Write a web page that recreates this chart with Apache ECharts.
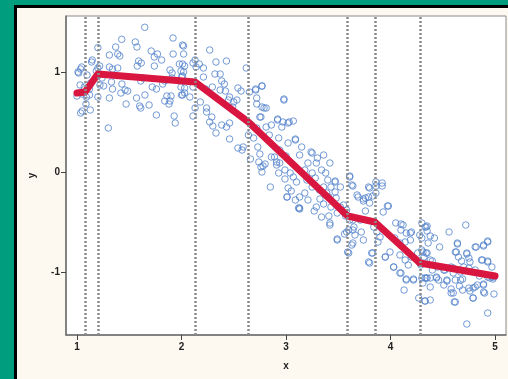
<!DOCTYPE html>
<html>
<head>
<meta charset="utf-8">
<script src="https://cdn.jsdelivr.net/npm/echarts@6/dist/echarts.min.js"></script>
<style>
html,body{margin:0;padding:0;width:508px;height:379px;overflow:hidden;background:#009e7e;}
#frame{position:absolute;left:14px;top:5px;width:494px;height:374px;box-sizing:border-box;border-left:3px solid #000;border-top:3px solid #000;background:#fdf9f1;}
#chart{position:absolute;left:0;top:0;width:508px;height:379px;}
</style>
</head>
<body>
<div id="frame"></div>
<div id="chart"></div>
<script>
// Observed scatter points [x, y]
const scatterPoints = [
[1.648,1.447],[1.428,1.327],[1.558,1.30],[1.574,1.25],[1.919,1.34],[2.01,1.27],[1.20,1.243],[1.37,1.25],[1.39,1.18],[1.41,1.16],
[1.31,1.17],[1.146,1.12],[1.71,1.21],[1.74,1.15],[1.77,1.18],[1.81,1.12],[1.74,1.06],[1.59,1.11],[1.615,1.09],[1.577,1.06],
[1.92,1.18],[1.98,1.08],[2.03,1.06],[1.89,1.02],[1.91,0.99],[1.995,1.01],[1.31,1.05],[1.39,1.04],[1.34,1.03],[1.035,1.03],
[1.016,0.99],[1.217,1.06],[1.185,1.01],[1.20,1.04],[1.096,0.97],[1.24,0.94],[1.33,0.90],[1.22,0.87],[1.43,0.88],[1.46,0.82],
[1.42,0.79],[1.31,0.74],[1.20,0.75],[1.03,0.87],[1.07,0.85],[1.05,0.78],[1.0,0.76],[1.09,0.75],[1.12,0.77],[1.086,0.68],
[1.05,0.61],[1.127,0.62],[1.035,0.59],[1.30,0.44],[1.47,0.68],[1.60,0.66],[1.61,0.64],[1.57,0.74],[1.65,0.77],[1.72,0.85],
[1.76,0.83],[1.69,0.67],[1.76,0.57],[1.61,0.91],[1.63,0.94],[1.82,0.88],[1.84,0.91],[1.86,0.76],[1.89,0.71],[1.84,0.71],
[1.88,0.68],[1.93,0.56],[1.94,0.49],[2.00,0.77],[1.995,0.85],[2.03,0.79],[1.90,0.76],[2.01,0.96],[1.91,0.94],[1.485,0.81],
[1.34,0.83],[1.12,0.83],[1.13,0.89],[1.255,0.86],[1.20,0.96],[1.01,1.00],[1.045,1.05],[1.14,1.10],
[2.02,1.26],[2.02,1.18],[2.01,1.08],[2.02,1.00],[2.00,0.95],[2.03,0.84],[2.01,0.77],[2.27,1.22],[2.13,1.12],[2.11,1.09],
[2.17,1.08],[2.14,1.05],[2.33,1.10],[2.43,1.11],[2.21,1.04],[2.32,0.98],[2.37,0.98],[2.21,0.95],[2.385,0.91],[2.41,0.88],
[2.295,0.85],[2.37,0.82],[2.42,0.81],[2.11,0.85],[2.08,0.75],[2.23,0.83],[2.46,0.75],[2.50,0.70],[2.53,0.72],[2.45,0.72],
[2.49,0.65],[2.54,0.84],[2.57,0.81],[2.62,1.04],[2.65,0.80],[2.71,0.82],[2.77,0.86],[2.72,0.74],[2.72,0.68],[2.77,0.65],
[2.81,0.64],[2.98,0.72],[2.18,0.70],[2.24,0.64],[2.13,0.64],[2.24,0.60],[2.29,0.55],[2.27,0.50],[2.30,0.46],[2.11,0.56],
[2.385,0.47],[2.43,0.45],[2.46,0.49],[2.33,0.39],[2.46,0.33],[2.54,0.24],[2.59,0.25],[2.58,0.22],[2.67,0.47],[2.72,0.44],
[2.64,0.37],[2.69,0.34],[2.73,0.25],[2.75,0.18],[2.81,0.45],[2.86,0.47],[2.84,0.37],[2.92,0.52],[2.96,0.45],[3.02,0.49],
[3.07,0.51],[2.93,0.34],[3.02,0.29],[3.09,0.32],[2.94,0.22],[2.89,0.15],[3.00,0.16],[2.91,0.07],[2.80,0.08],[2.74,0.10],
[2.78,0.06],[2.66,0.13],[2.77,0.86],[2.98,0.73],[2.71,0.83],[2.79,0.64],[2.76,0.55],[2.92,0.53],[2.97,0.50],[3.03,0.50],
[3.09,0.33],[3.15,0.25],[3.36,0.17],[3.42,0.09],[3.25,0.19],[2.75,0.55],
[3.24,0.20],[3.30,0.14],[3.13,0.17],[3.21,0.09],[3.29,0.09],[3.34,0.02],[3.38,-0.01],[3.25,-0.01],[3.18,0.02],[3.28,-0.06],
[3.20,-0.08],[3.40,-0.08],[3.47,-0.10],[3.61,-0.05],[3.64,-0.14],[3.43,-0.15],[3.36,-0.15],[3.32,-0.18],[3.25,-0.15],[3.47,-0.20],
[3.39,-0.21],[3.325,-0.27],[3.36,-0.32],[3.29,-0.35],[3.41,-0.25],[3.48,-0.26],[3.52,-0.35],[3.49,-0.41],[3.41,-0.44],[3.42,-0.53],
[3.34,-0.45],[3.27,-0.39],[3.21,-0.28],[3.13,-0.36],[3.18,-0.21],[3.58,-0.38],[3.57,-0.44],[3.61,-0.48],[3.65,-0.55],[3.60,-0.58],
[3.56,-0.62],[3.68,-0.23],[3.64,-0.48],[3.04,-0.01],[2.99,-0.07],[3.07,-0.05],[3.10,-0.10],[3.02,-0.16],[3.05,-0.19],[3.01,-0.25],
[3.09,-0.28],[3.13,-0.25],[3.13,-0.37],[2.85,-0.15],[2.93,-0.01],[2.99,0.02],[2.91,0.10],[2.76,0.05],[2.77,0.00],[2.86,0.15],
[2.94,0.09],[3.86,-0.10],[3.92,-0.14],[3.79,-0.15],
[3.61,-0.04],[3.63,-0.13],[3.47,-0.09],[3.52,-0.15],[3.92,-0.11],[3.86,-0.14],[3.80,-0.16],[3.76,-0.26],[3.83,-0.24],[3.74,-0.29],
[3.80,-0.31],[3.98,-0.34],[3.93,-0.40],[3.76,-0.39],[3.55,-0.33],[3.56,-0.41],[3.42,-0.51],[3.49,-0.67],[3.58,-0.60],[3.64,-0.58],
[3.66,-0.63],[3.72,-0.60],[3.74,-0.68],[3.60,-0.81],[3.63,-0.73],[3.71,-0.48],[3.84,-0.55],[3.87,-0.60],[3.90,-0.65],[3.88,-0.70],
[3.82,-0.81],[3.80,-0.91],[4.05,-0.51],[4.12,-0.53],[4.10,-0.58],[4.15,-0.61],[4.19,-0.68],[4.14,-0.70],[4.09,-0.71],[4.04,-0.66],
[3.995,-0.80],[3.95,-0.85],[4.09,-0.83],[4.14,-0.88],[4.03,-0.95],[4.09,-1.01],[4.17,-0.93],[4.20,-0.85],[4.26,-0.81],[4.30,-0.78],
[4.28,-0.63],[4.33,-0.55],[4.35,-0.59],[4.30,-0.66],[4.28,-0.91],[4.15,-1.08],[4.22,-1.08],[4.30,-1.06],[4.35,-1.06],
[3.01,-0.25],[3.12,-0.36],[3.49,-0.68],[3.59,-0.80],[3.64,-0.71],[3.79,-0.90],[3.83,-0.81],[3.86,-0.21],[3.79,-0.25],[3.74,-0.27],
[3.69,-0.25],[3.43,-0.35],[3.97,-0.34],
[4.10,-0.52],[4.19,-0.61],[4.20,-0.60],[4.30,-0.51],[4.35,-0.54],[4.38,-0.64],[4.42,-0.66],[4.47,-0.75],[4.56,-0.60],[4.72,-0.53],
[4.64,-0.71],[4.62,-0.80],[4.73,-0.81],[4.81,-0.75],[4.89,-0.74],[4.93,-0.70],[4.88,-0.88],[4.93,-0.90],[4.97,-0.95],[4.99,-1.05],
[4.98,-1.07],[4.99,-1.22],[4.93,-1.41],[4.73,-1.52],[4.61,-1.30],[4.58,-1.21],[4.51,-1.13],[4.44,-1.05],[4.38,-1.15],[4.34,-1.06],
[4.27,-1.26],[4.33,-1.29],[4.38,-1.28],[4.13,-1.18],[4.22,-1.07],[4.15,-1.07],[4.10,-1.01],[4.03,-0.95],[3.95,-0.85],[4.69,-1.18],
[4.79,-1.26],[4.81,-1.15],[4.75,-1.16],[4.89,-1.13],[4.89,-1.20],[4.67,-1.08],[4.54,-1.08],[4.60,-1.01],[4.67,-1.00],[4.75,-0.96],
[4.70,-0.95],[4.51,-0.98],[4.45,-0.95],[4.38,-0.88],[4.40,-0.98],[4.29,-0.93],[4.32,-0.85],[4.35,-0.81],[4.65,-0.85],[4.58,-0.95],
[4.76,-0.90],[4.81,-0.98],[4.93,-1.05],[4.85,-1.04],
[4.93,-0.69],[4.89,-0.73],[4.82,-0.75],[4.64,-0.72],[4.34,-0.55],[4.36,-0.71],[4.31,-0.80],[4.34,-0.81],[4.40,-0.89],[4.63,-0.80],
[4.73,-0.82],[4.75,-0.86],[4.68,-0.89],[4.87,-0.88],[4.93,-0.89],[4.60,-0.96],[4.52,-0.98],[4.44,-1.06],[4.38,-1.06],[4.33,-1.06],
[4.31,-1.11],[4.46,-1.08],[4.54,-1.09],[4.62,-1.08],[4.69,-1.07],[4.66,-1.14],[4.58,-1.17],[4.60,-1.21],[4.76,-1.19],[4.79,-1.16],
[4.83,-1.13],[4.89,-1.12],[4.95,-1.06],[4.97,-1.05],[4.90,-1.21],[4.79,-1.26],[4.62,-1.30],[4.33,-1.29]
];
// Fitted piecewise-linear curve
const fitX = [1, 1.077, 1.20, 2.13, 2.64, 3.59, 3.85, 4.28, 5];
const fitY = [0.79, 0.80, 0.98, 0.90, 0.50, -0.44, -0.50, -0.91, -1.04];
// Knot positions (vertical dotted lines)
const knots = [1.077, 1.20, 2.13, 2.64, 3.59, 3.85, 4.28];
const xTicks = [1, 2, 3, 4, 5];
const yTicks = [-1, 0, 1];

const chart = echarts.init(document.getElementById('chart'), null, {renderer: 'canvas'});
const labelFont = {fontFamily: 'Liberation Sans, Arial, sans-serif', fontSize: 10, fontWeight: 'bold', color: '#222'};
chart.setOption({
  backgroundColor: 'transparent',
  animation: false,
  grid: {left: 66, top: 16, right: 2, bottom: 44, show: true, backgroundColor: '#ffffff', borderColor: '#8a8a8a', borderWidth: 1},
  xAxis: {
    type: 'value', min: 0.895, max: 5.105,
    name: 'x', nameLocation: 'middle', nameGap: 26,
    nameTextStyle: Object.assign({}, labelFont),
    axisLine: {show: true, onZero: false, lineStyle: {color: '#6e6e6e', width: 1.5}},
    axisTick: {show: true, length: 5, customValues: xTicks, lineStyle: {color: '#444'}},
    axisLabel: Object.assign({customValues: xTicks, margin: 7}, labelFont),
    splitLine: {show: false}
  },
  yAxis: {
    type: 'value', min: -1.63, max: 1.56,
    name: 'y', nameLocation: 'middle', nameGap: 29, nameRotate: 90,
    nameTextStyle: Object.assign({}, labelFont),
    axisLine: {show: true, onZero: false, lineStyle: {color: '#6e6e6e', width: 1.5}},
    axisTick: {show: true, length: 5, customValues: yTicks, lineStyle: {color: '#444'}},
    axisLabel: Object.assign({customValues: yTicks, margin: 6}, labelFont),
    splitLine: {show: false}
  },
  series: [
    {
      type: 'line', data: [], silent: true,
      markLine: {
        silent: true, symbol: 'none', label: {show: false},
        lineStyle: {color: '#8a8a8a', type: [2, 2], width: 2.5, opacity: 1},
        emphasis: {disabled: true},
        data: knots.map(k => ({xAxis: k}))
      }
    },
    {
      type: 'scatter', data: scatterPoints, symbol: 'circle', symbolSize: 6.5,
      itemStyle: {color: 'rgba(0,0,0,0)', borderColor: '#5282cc', borderWidth: 1}, z: 3
    },
    {
      type: 'line', data: fitX.map((x, i) => [x, fitY[i]]), symbol: 'none',
      lineStyle: {color: '#d9163f', width: 7, cap: 'round', join: 'round'}, z: 4
    }
  ]
});
</script>
</body>
</html>
